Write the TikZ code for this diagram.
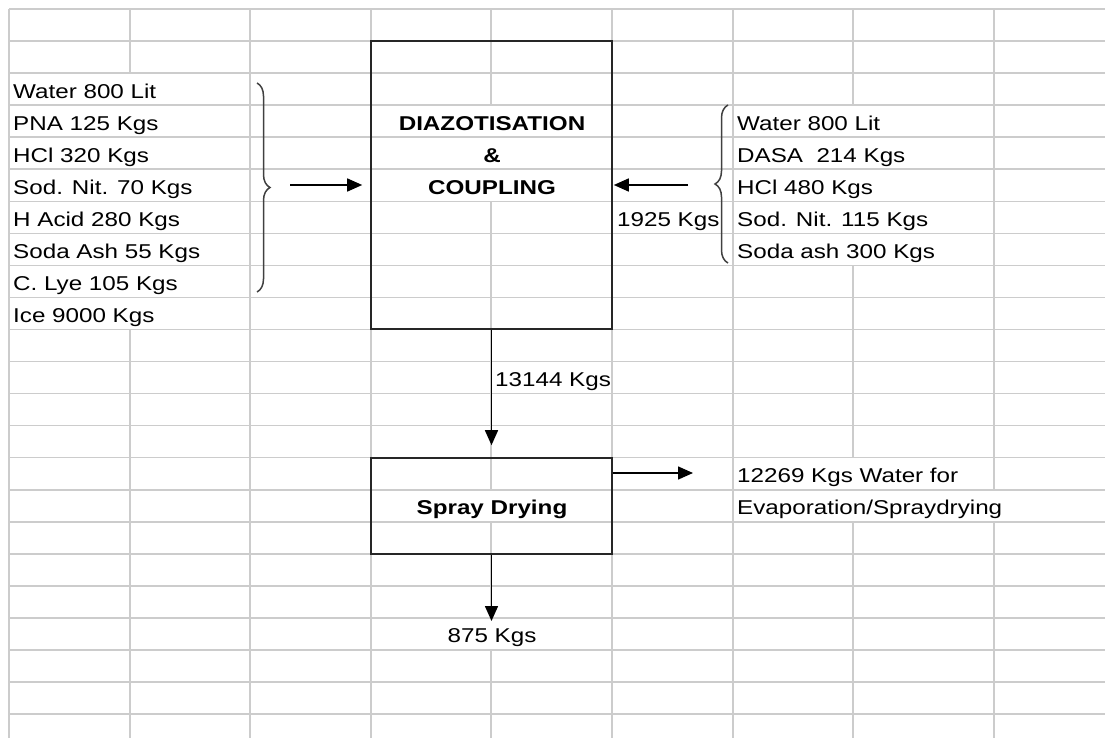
\documentclass[tikz,border=0pt]{standalone}
\usepackage{fontspec}
\setmainfont{Liberation Sans}[FakeStretch=1.21]
\usetikzlibrary{arrows.meta, positioning, calc, decorations.pathreplacing}
\tikzset{
    sheet/.style={draw=gray!40, line width=1.5pt},
    procbox/.style={draw=black!85, line width=1.6pt, minimum width=241pt, inner sep=0pt},
    stream/.style={-{Triangle[length=15pt, width=13pt]}, line width=1.5pt},
    celltxt/.style={anchor=base west, inner sep=0pt, font=\fontsize{20}{24}\selectfont},
    boldtxt/.style={anchor=base, inner sep=0pt, font=\fontsize{20}{24}\selectfont\bfseries},
    curly/.style={decorate, decoration={brace, amplitude=13pt}, draw=black!75, line width=1.5pt},
}

\begin{document}
\begin{tikzpicture}[x=1pt, y=-1pt]
    \useasboundingbox (0,0) rectangle (1105,738);

    % spreadsheet grid
    \foreach \r in {0,...,22}
        \draw[sheet] (9,{9+32.05*\r}) -- (1105,{9+32.05*\r});
    \foreach \x/\a/\b in {9/9/738, 130/9/73.1, 130/329.5/738, 250/9/738, 371/9/738,
                          491/9/105.15, 491/201.3/489.75, 491/521.8/617.95, 491/650/738,
                          612/9/738, 733/9/738, 853/9/105.15, 853/265.4/457.7, 853/521.8/738,
                          994/9/489.75, 994/521.8/738}
        \draw[sheet] (\x,\a) -- (\x,\b);

    % process blocks
    \node[procbox, minimum height=288pt] (diazo) at (491.5,185) {};
    \node[procbox, minimum height=96pt] (spray) at (491.5,506) {};
    \node[boldtxt] (diazolbl) at (492,130.15) {DIAZOTISATION};
    \node[boldtxt] (amplbl) at (492,162.2) {\&};
    \node[boldtxt] (couplbl) at (492,194.3) {COUPLING};
    \node[boldtxt] (spraylbl) at (492,514.8) {Spray Drying};

    % raw material lists
    \foreach \txt [count=\i from 2] in {Water 800 Lit, PNA 125 Kgs, HCl 320 Kgs, Sod. Nit. 70 Kgs,
                                        H Acid 280 Kgs, Soda Ash 55 Kgs, C. Lye 105 Kgs, Ice 9000 Kgs}
        \node[celltxt] (left\i) at (13,{9+32.05*(\i+1)-7}) {\txt};
    \foreach \txt [count=\i from 3] in {Water 800 Lit, DASA~ 214 Kgs, HCl 480 Kgs,
                                        Sod. Nit. 115 Kgs, Soda ash 300 Kgs}
        \node[celltxt] (right\i) at (737,{9+32.05*(\i+1)-7}) {\txt};

    \draw[curly] (257,83) -- (257,292);
    \draw[curly] (728,263) -- (728,105);

    % flows
    \coordinate (feedL) at (290,185);
    \coordinate (feedR) at (688,185);
    \coordinate (vapour) at (693,473);
    \coordinate (product) at (491.5,621);
    \draw[stream, shorten >=8pt] (feedL) -- (diazo.west);
    \draw[stream, shorten >=1pt] (feedR) -- (diazo.east);
    \draw[stream, shorten >=12pt] (diazo.south) -- (spray.north);
    \draw[stream] (spray.east |- vapour) -- (vapour);
    \draw[stream] (spray.south) -- (product);

    \node[celltxt] (feedRqty) at (617,226.35) {1925 Kgs};
    \node[celltxt] (midqty) at (495,386.6) {13144 Kgs};
    \node[celltxt] (vapqty) at (737,482.75) {12269 Kgs Water for};
    \node[celltxt] (vaptxt) at (737,514.8) {Evaporation/Spraydrying};
    \node[boldtxt, font=\fontsize{20}{24}\selectfont] (prodqty) at (492,642) {875 Kgs};
\end{tikzpicture}
\end{document}
